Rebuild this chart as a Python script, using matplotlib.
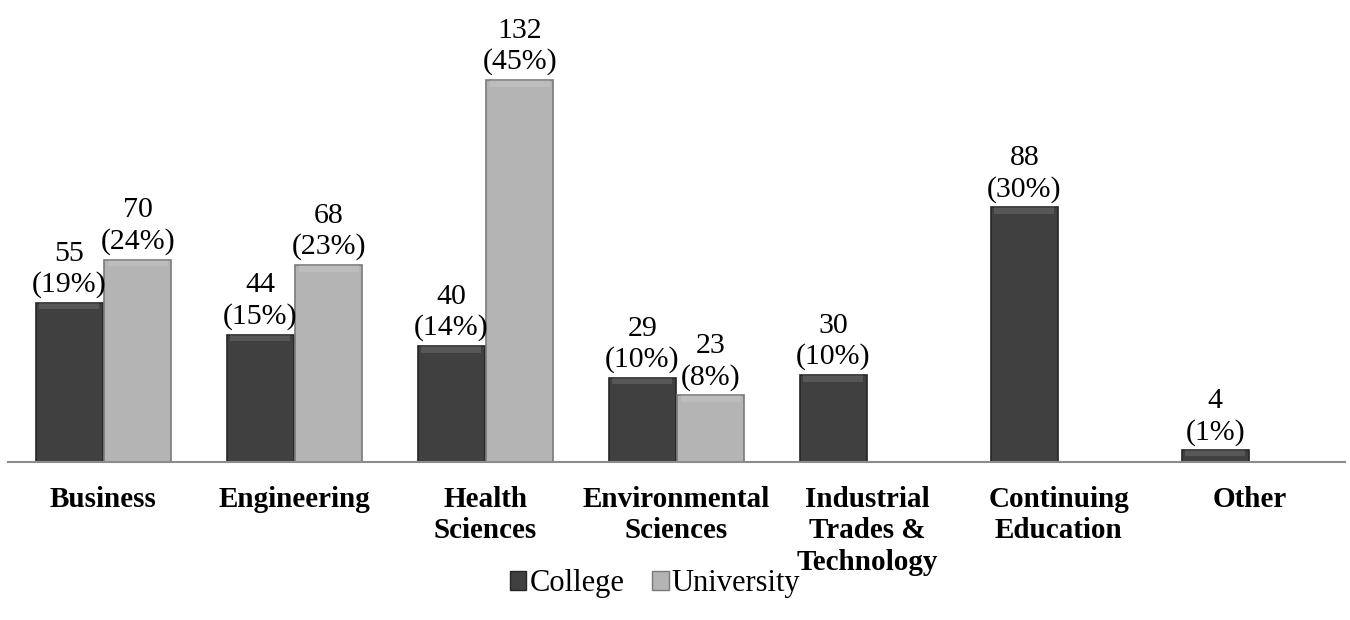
import matplotlib
matplotlib.use("Agg")
import matplotlib.pyplot as plt
import numpy as np

categories = ["Business", "Engineering", "Health\nSciences", "Environmental\nSciences",
              "Industrial\nTrades &\nTechnology", "Continuing\nEducation", "Other"]
college = [55, 44, 40, 29, 30, 88, 4]
college_pct = [19, 15, 14, 10, 10, 30, 1]
university = [70, 68, 132, 23, None, None, None]
university_pct = [24, 23, 45, 8, None, None, None]

SERIES = [("College", college, college_pct, "#404040", "#262626"),
          ("University", university, university_pct, "#b4b4b4", "#7a7a7a")]

plt.rcParams["font.family"] = ["Liberation Serif", "DejaVu Serif"]

fig = plt.figure(figsize=(13.5, 6.2), dpi=100)
ax = fig.add_axes([8 / 1350, 1 - 462 / 620, 1337 / 1350, 405 / 620])

x = np.arange(len(categories))
w = 0.35
handles = []
for i, (name, vals, pcts, face, edge) in enumerate(SERIES):
    off = (i - 0.5) * (w + 0.008)
    for xi, v, p in zip(x, vals, pcts):
        if v is None:
            continue
        pos = xi + off
        ax.bar(pos, v, width=w, color=face, edgecolor=edge, linewidth=1.2, zorder=2)
        # light bevel strip along the top edge
        ax.bar(pos, min(2.2, v * 0.45), bottom=v - min(2.2, v * 0.45), width=w * 0.9,
               color="white", alpha=0.12, linewidth=0, zorder=3)
        ax.annotate(f"{v}\n({p}%)", (pos, v), xytext=(0, 3.5), textcoords="offset points",
                    ha="center", va="bottom", fontsize=21.5, linespacing=1.22)
    handles.append(plt.Rectangle((0, 0), 1, 1, facecolor=face, edgecolor=edge, linewidth=1))

ax.set_xlim(-0.5, len(categories) - 0.5)
ax.set_ylim(0, 140)
ax.set_yticks([])
ax.set_xticks(x)
ax.set_xticklabels(categories, fontsize=21, fontweight="bold", linespacing=1.22)
ax.tick_params(axis="x", length=0, pad=17)
for s in ["top", "right", "left"]:
    ax.spines[s].set_visible(False)
ax.spines["bottom"].set_color("#8c8c8c")
ax.spines["bottom"].set_linewidth(1.5)

fig.legend(handles, [s[0] for s in SERIES], loc="center",
           bbox_to_anchor=(655 / 1350, 1 - 584 / 620),
           ncol=2, frameon=False, fontsize=22, handlelength=0.55, handleheight=0.55,
           handletextpad=0.1, columnspacing=0.9, borderpad=0)

fig.savefig("out.png", dpi=100)
